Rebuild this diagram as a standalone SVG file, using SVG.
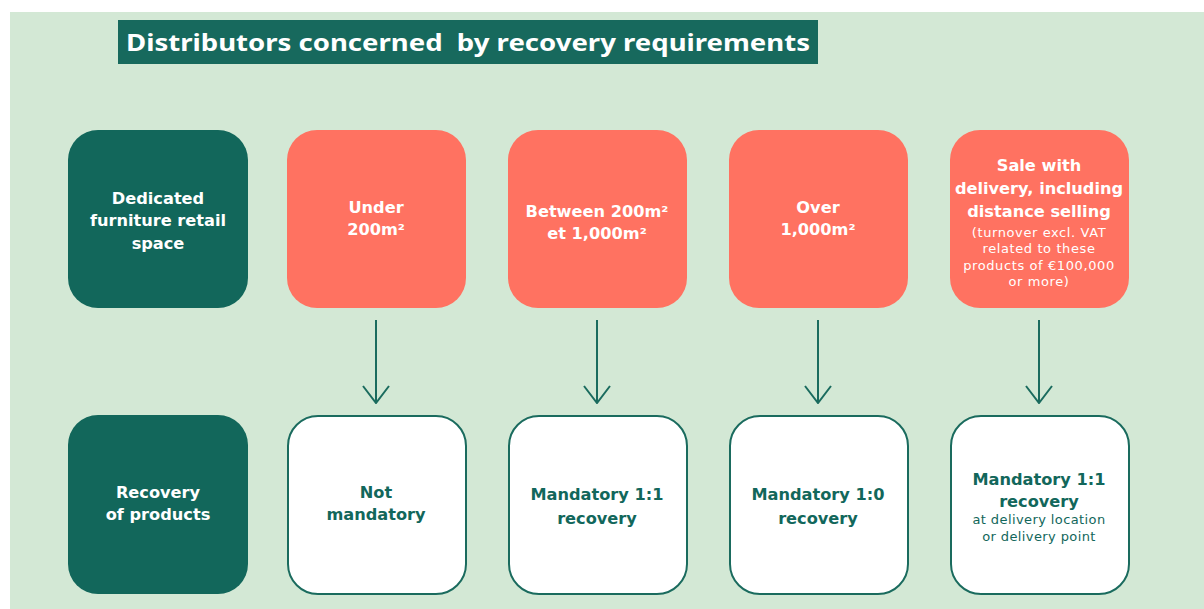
<svg xmlns="http://www.w3.org/2000/svg" width="1204" height="609" viewBox="0 0 1204 609">
<style>
.dk{fill:#12675b}
.or{fill:#ff7261}
.wh{fill:#ffffff;stroke:#1a6b5e;stroke-width:2}
text{font-family:"DejaVu Sans","Noto Sans","Liberation Sans",sans-serif;font-weight:700;text-anchor:middle}
.tw{fill:#ffffff;font-size:16.2px}
.ts{fill:#ffffff;font-size:13px;font-weight:400;letter-spacing:0.6px}
.tg{fill:#12675b;font-size:16.2px}
.tgs{fill:#12675b;font-size:13px;font-weight:400;letter-spacing:0.4px}
.conn{stroke:#1a6b5e;stroke-width:2;fill:none}
</style>
<defs>
<marker id="ah" viewBox="0 0 19 28" refX="18" refY="14" markerWidth="19" markerHeight="28" markerUnits="userSpaceOnUse" orient="auto">
<path d="M1 1 L18 14 L1 27" fill="none" stroke="#1a6b5e" stroke-width="2"/>
</marker>
</defs>
<rect x="0" y="0" width="1204" height="609" fill="#ffffff"/>
<rect x="10" y="12" width="1194" height="597" fill="#d3e8d5"/>
<g id="title">
<rect x="118" y="20" width="700" height="44" fill="#17695d"/>
<text x="468" y="51" fill="#ffffff" style="font-family:'Noto Sans','Liberation Sans',sans-serif;font-size:24px;white-space:pre" textLength="684" lengthAdjust="spacingAndGlyphs">Distributors concerned  by recovery requirements</text>
</g>
<g id="n-retail">
<rect class="dk" x="68" y="130" width="180" height="178" rx="30"/>
<text class="tw" x="158" y="204">Dedicated</text>
<text class="tw" x="158" y="226">furniture retail</text>
<text class="tw" x="158" y="249">space</text>
</g>
<g id="n-under">
<rect class="or" x="287" y="130" width="179" height="178" rx="30"/>
<text class="tw" x="376" y="213">Under</text>
<text class="tw" x="376" y="235">200m²</text>
</g>
<g id="n-between">
<rect class="or" x="508" y="130" width="179" height="178" rx="30"/>
<text class="tw" x="597" y="217">Between 200m²</text>
<text class="tw" x="597" y="239">et 1,000m²</text>
</g>
<g id="n-over">
<rect class="or" x="729" y="130" width="179" height="178" rx="30"/>
<text class="tw" x="818" y="213">Over</text>
<text class="tw" x="818" y="235">1,000m²</text>
</g>
<g id="n-sale">
<rect class="or" x="950" y="130" width="179" height="178" rx="30"/>
<text class="tw" x="1039" y="171">Sale with</text>
<text class="tw" x="1039" y="194">delivery, including</text>
<text class="tw" x="1039" y="217">distance selling</text>
<text class="ts" x="1039" y="237">(turnover excl. VAT</text>
<text class="ts" x="1039" y="253">related to these</text>
<text class="ts" x="1039" y="270">products of €100,000</text>
<text class="ts" x="1039" y="286">or more)</text>
</g>
<g id="n-recovery">
<rect class="dk" x="68" y="415" width="180" height="179" rx="30"/>
<text class="tw" x="158" y="498">Recovery</text>
<text class="tw" x="158" y="520">of products</text>
</g>
<g id="n-not">
<rect class="wh" x="288" y="416" width="178" height="178" rx="30"/>
<text class="tg" x="376" y="498">Not</text>
<text class="tg" x="376" y="520">mandatory</text>
</g>
<g id="n-m11">
<rect class="wh" x="509" y="416" width="178" height="178" rx="30"/>
<text class="tg" x="597" y="500">Mandatory 1:1</text>
<text class="tg" x="597" y="524">recovery</text>
</g>
<g id="n-m10">
<rect class="wh" x="730" y="416" width="178" height="178" rx="30"/>
<text class="tg" x="818" y="500">Mandatory 1:0</text>
<text class="tg" x="818" y="524">recovery</text>
</g>
<g id="n-m11d">
<rect class="wh" x="951" y="416" width="178" height="178" rx="30"/>
<text class="tg" x="1039" y="485">Mandatory 1:1</text>
<text class="tg" x="1039" y="507">recovery</text>
<text class="tgs" x="1039" y="524">at delivery location</text>
<text class="tgs" x="1039" y="541">or delivery point</text>
</g>
<g id="connectors">
<path class="conn" d="M376 320 V403" marker-end="url(#ah)"/>
<path class="conn" d="M597 320 V403" marker-end="url(#ah)"/>
<path class="conn" d="M818 320 V403" marker-end="url(#ah)"/>
<path class="conn" d="M1039 320 V403" marker-end="url(#ah)"/>
</g>
</svg>
